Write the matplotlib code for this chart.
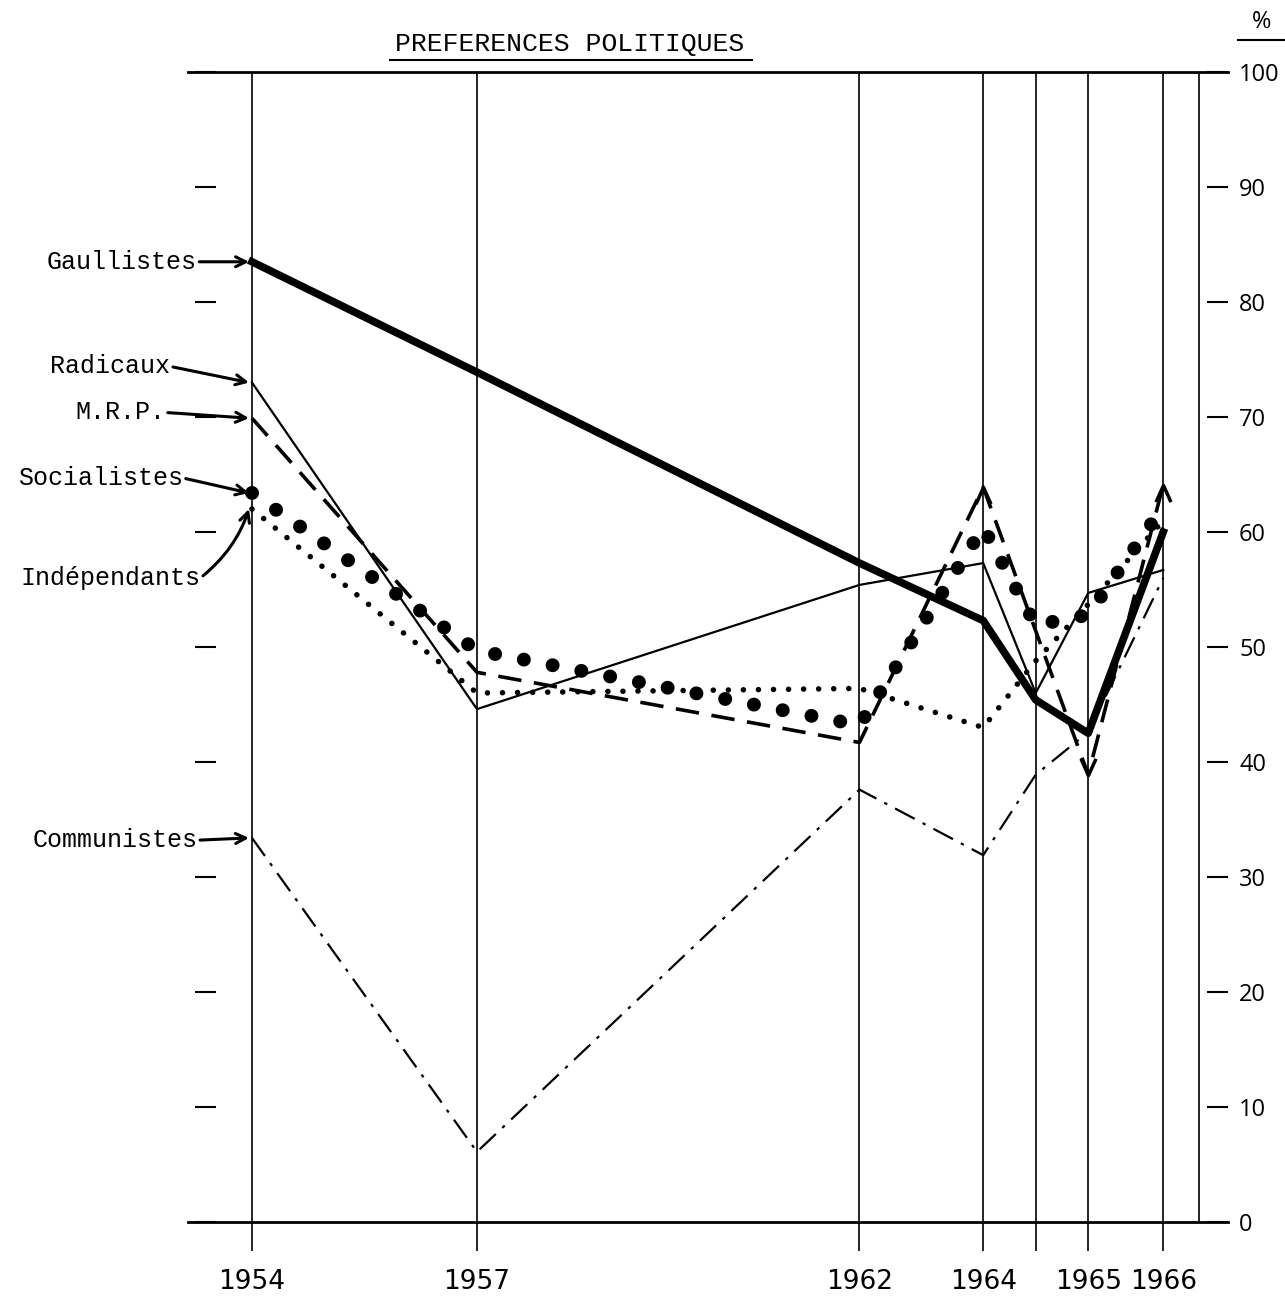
import numpy as np
import matplotlib
matplotlib.use("Agg")
import matplotlib.pyplot as plt
from matplotlib.lines import Line2D

# Data

poll_x = [0, 3, 8.1, 9.75, 10.45, 11.15, 12.15]   # position of each poll along the time axis
poll_labels = ["1954", "1957", "1962", "1964", "", "1965", "1966"]
frame_x = 12.63

gaullistes = [83.5, 73.9, 57.3, 52.3, 45.4, 42.5, 60.0]
radicaux = [73.0, 44.6, 55.4, 57.3, 46.0, 54.7, 56.7]
mrp = [69.9, 47.8, 41.7, 63.9, np.nan, 38.9, 64.1]
socialistes = [63.4, 49.7, 43.2, 60.4, 51.9, 52.8, 62.2]
independants = [62.0, 46.0, 46.4, 43.0, 48.8, 53.7, 61.0]
communistes = [33.4, 6.1, 37.6, 31.9, 38.9, 42.6, 56.0]

pct_ticks = list(range(0, 101, 10))

mono = ["Liberation Mono", "DejaVu Sans Mono"]
narrow = ["Liberation Sans Narrow", "DejaVu Sans"]

# Figure

fig = plt.figure(figsize = (12.85, 13.05), dpi = 100)
ax = fig.add_axes([0.1463, 0.0636, 0.8093, 0.8812])
ax.set_xlim(-0.853, 13.013)
ax.set_ylim(0, 100)

for s in ["top", "bottom", "left", "right"]:
    ax.spines[s].set_visible(False)
ax.spines["left"].set_position(("data", -0.76))

# frame
ax.axhline(100, color = "black", lw = 2, clip_on = False)
ax.axhline(0, color = "black", lw = 2, clip_on = False)
ax.vlines(poll_x, -2.5, 100, color = "black", lw = 1.2, clip_on = False)
ax.vlines([frame_x], 0, 100, color = "black", lw = 1.2)

# ticks
ax.set_yticks(pct_ticks)
ax.tick_params(axis = "y", direction = "in", length = 15, width = 1.5, left = True, right = True,
               labelleft = False, labelright = True, pad = 8, labelsize = 17,
               labelcolor = "black")
for lab in ax.get_yticklabels():
    lab.set_fontfamily(["Open Sans", "DejaVu Sans"])
ax.set_xticks(poll_x)
ax.set_xticklabels(poll_labels, fontsize = 19, family = narrow)
ax.tick_params(axis = "x", length = 0, pad = 34)

# Series

def draw(vals, **kw):
    v = np.array(vals, dtype = float)
    x = np.array(poll_x)
    m = ~np.isnan(v)
    ax.plot(x[m], v[m], color = "black", clip_on = False, **kw)

draw(communistes, lw = 1.6, linestyle = (0, (10, 4, 1.5, 4)), zorder = 3)
draw(independants, lw = 4, linestyle = (0, (0.01, 2.7)), dash_capstyle = "round", zorder = 3)
draw(socialistes, lw = 10, linestyle = (0, (0.01, 2.1)), dash_capstyle = "round", zorder = 4)
draw(mrp, lw = 2.6, linestyle = (0, (6.5, 3.5)), zorder = 4)
draw(radicaux, lw = 1.6, zorder = 5)
draw(gaullistes, lw = 5.5, solid_joinstyle = "round", zorder = 6)

# arrow heads on the M.R.P. line
up_head = [(-0.45, -1), (0, 0), (0.45, -1)]
down_head = [(-0.45, 1), (0, 0), (0.45, 1)]
for i, head in [(3, up_head), (5, down_head), (6, up_head)]:
    ax.plot([poll_x[i]], [mrp[i]], marker = head, markersize = 24, markerfacecolor = "none",
            markeredgecolor = "black", markeredgewidth = 2.5, linestyle = "none", zorder = 7,
            clip_on = False)

# Party labels with arrows

labels = [
    ("Gaullistes", gaullistes, -0.74, 83.5, 0),
    ("Radicaux", radicaux, -1.09, 74.4, 0),
    ("M.R.P.", mrp, -1.16, 70.4, 0),
    ("Socialistes", socialistes, -0.92, 64.7, 0),
    ("Indépendants", independants, -0.69, 56.0, 0.15),
    ("Communistes", communistes, -0.73, 33.2, 0),
]
for name, vals, tx, ty, rad in labels:
    ax.annotate(name, xy = (poll_x[0] - 0.04, vals[0]), xytext = (tx, ty),
                ha = "right", va = "center", fontsize = 18, family = mono,
                annotation_clip = False,
                arrowprops = dict(arrowstyle = "->", lw = 2.2, color = "black", mutation_scale = 18,
                                  relpos = (1, 0.5), shrinkA = 0, shrinkB = 0,
                                  connectionstyle = f"arc3,rad={rad}"))

# Title and % sign

fig.text(570 / 1285, 1 - 44 / 1305, "PREFERENCES POLITIQUES", ha = "center", va = "center",
         fontsize = 19, family = mono)
fig.add_artist(Line2D([390 / 1285, 752 / 1285], [1 - 60 / 1305] * 2, color = "black", lw = 1.5))
fig.text(1262 / 1285, 1 - 22 / 1305, "%", ha = "center", va = "center", fontsize = 17,
         family = ["Open Sans", "DejaVu Sans"])
fig.add_artist(Line2D([1238 / 1285, 1284 / 1285], [1 - 40 / 1305] * 2, color = "black", lw = 1.5))

fig.savefig("out.png", dpi = 100, facecolor = "white")
